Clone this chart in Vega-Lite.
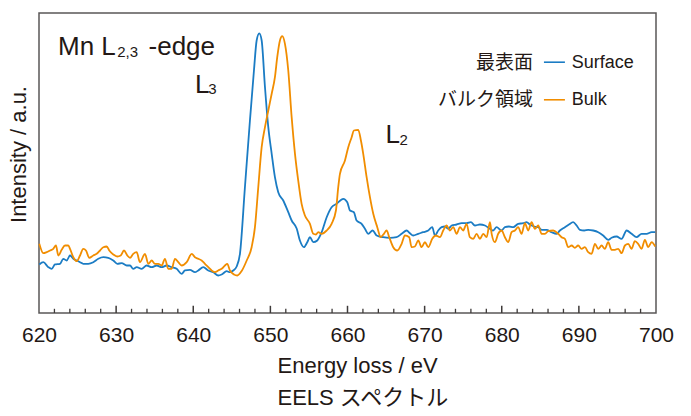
{
  "$schema": "https://vega.github.io/schema/vega-lite/v6.json",
  "width": 617,
  "height": 300,
  "autosize": {"type": "none"},
  "padding": {"left": 39, "top": 13, "right": 35, "bottom": 103},
  "background": "white",
  "config": {
    "view": {"stroke": "#595757", "strokeWidth": 1.5},
    "font": "Liberation Sans, Noto Sans CJK JP, sans-serif"
  },
  "datasets": {
    "spectra": [
      {"E":620.04,"I":16.17,"s":"Surface"},{"E":620.56,"I":16.93,"s":"Surface"},{"E":621.21,"I":15.27,"s":"Surface"},{"E":621.65,"I":14.73,"s":"Surface"},{"E":622.07,"I":16.17,"s":"Surface"},{"E":622.72,"I":16.4,"s":"Surface"},{"E":623.15,"I":18.07,"s":"Surface"},{"E":623.59,"I":17.5,"s":"Surface"},{"E":624.02,"I":19.17,"s":"Surface"},{"E":624.45,"I":18.07,"s":"Surface"},{"E":624.89,"I":17.5,"s":"Surface"},{"E":625.32,"I":16.93,"s":"Surface"},{"E":625.74,"I":16.4,"s":"Surface"},{"E":626.39,"I":16.4,"s":"Surface"},{"E":627.04,"I":16.93,"s":"Surface"},{"E":627.69,"I":18.07,"s":"Surface"},{"E":628.34,"I":18.6,"s":"Surface"},{"E":628.98,"I":18.4,"s":"Surface"},{"E":629.63,"I":17.5,"s":"Surface"},{"E":630.15,"I":16.4,"s":"Surface"},{"E":630.72,"I":16.6,"s":"Surface"},{"E":631.37,"I":15.83,"s":"Surface"},{"E":631.8,"I":15.83,"s":"Surface"},{"E":632.22,"I":14.73,"s":"Surface"},{"E":632.67,"I":15.27,"s":"Surface"},{"E":633.31,"I":14.73,"s":"Surface"},{"E":633.96,"I":15.83,"s":"Surface"},{"E":634.61,"I":15.27,"s":"Surface"},{"E":635.26,"I":15.83,"s":"Surface"},{"E":635.91,"I":15.27,"s":"Surface"},{"E":636.55,"I":15.83,"s":"Surface"},{"E":637.2,"I":15.27,"s":"Surface"},{"E":637.85,"I":14.73,"s":"Surface"},{"E":638.5,"I":13.07,"s":"Surface"},{"E":638.93,"I":14.17,"s":"Surface"},{"E":639.57,"I":14.4,"s":"Surface"},{"E":640.22,"I":13.6,"s":"Surface"},{"E":640.65,"I":14.17,"s":"Surface"},{"E":641.3,"I":15.27,"s":"Surface"},{"E":641.95,"I":14.17,"s":"Surface"},{"E":642.6,"I":13.6,"s":"Surface"},{"E":643.24,"I":12.5,"s":"Surface"},{"E":643.68,"I":12.83,"s":"Surface"},{"E":644.33,"I":13.93,"s":"Surface"},{"E":644.76,"I":13.6,"s":"Surface"},{"E":645.19,"I":14.17,"s":"Surface"},{"E":645.63,"I":15.5,"s":"Surface"},{"E":646.06,"I":19.83,"s":"Surface"},{"E":646.7,"I":41.93,"s":"Surface"},{"E":647.35,"I":64.17,"s":"Surface"},{"E":647.87,"I":80.83,"s":"Surface"},{"E":648.22,"I":90.83,"s":"Surface"},{"E":648.56,"I":93.2,"s":"Surface"},{"E":648.87,"I":90.83,"s":"Surface"},{"E":649.3,"I":75.27,"s":"Surface"},{"E":649.73,"I":61.93,"s":"Surface"},{"E":650.17,"I":53.07,"s":"Surface"},{"E":650.59,"I":45.27,"s":"Surface"},{"E":651.02,"I":40.27,"s":"Surface"},{"E":651.67,"I":37.5,"s":"Surface"},{"E":652.32,"I":33.6,"s":"Surface"},{"E":652.76,"I":30.83,"s":"Surface"},{"E":653.41,"I":28.17,"s":"Surface"},{"E":653.83,"I":24.17,"s":"Surface"},{"E":654.35,"I":21.93,"s":"Surface"},{"E":654.78,"I":23.6,"s":"Surface"},{"E":655.13,"I":25.27,"s":"Surface"},{"E":655.56,"I":23.6,"s":"Surface"},{"E":656.08,"I":24.17,"s":"Surface"},{"E":656.65,"I":26.93,"s":"Surface"},{"E":657.3,"I":31.93,"s":"Surface"},{"E":657.94,"I":35.27,"s":"Surface"},{"E":658.59,"I":36.4,"s":"Surface"},{"E":659.45,"I":38.07,"s":"Surface"},{"E":659.97,"I":36.93,"s":"Surface"},{"E":660.32,"I":34.17,"s":"Surface"},{"E":660.83,"I":33.6,"s":"Surface"},{"E":661.18,"I":30.83,"s":"Surface"},{"E":661.83,"I":29.73,"s":"Surface"},{"E":662.26,"I":28.07,"s":"Surface"},{"E":662.69,"I":26.4,"s":"Surface"},{"E":663.26,"I":27.5,"s":"Surface"},{"E":663.78,"I":25.83,"s":"Surface"},{"E":664.63,"I":25.27,"s":"Surface"},{"E":665.5,"I":25.07,"s":"Surface"},{"E":666.37,"I":25.27,"s":"Surface"},{"E":667.02,"I":26.4,"s":"Surface"},{"E":667.67,"I":27.5,"s":"Surface"},{"E":668.09,"I":26.6,"s":"Surface"},{"E":668.52,"I":25.83,"s":"Surface"},{"E":669.17,"I":26.4,"s":"Surface"},{"E":669.82,"I":26.93,"s":"Surface"},{"E":670.47,"I":27.5,"s":"Surface"},{"E":670.99,"I":28.6,"s":"Surface"},{"E":671.34,"I":25.83,"s":"Surface"},{"E":671.76,"I":27.5,"s":"Surface"},{"E":672.2,"I":28.6,"s":"Surface"},{"E":672.63,"I":28.83,"s":"Surface"},{"E":673.06,"I":28.07,"s":"Surface"},{"E":673.5,"I":29.17,"s":"Surface"},{"E":674.15,"I":29.5,"s":"Surface"},{"E":674.8,"I":29.93,"s":"Surface"},{"E":675.44,"I":29.93,"s":"Surface"},{"E":676.0,"I":30.27,"s":"Surface"},{"E":676.52,"I":29.17,"s":"Surface"},{"E":677.17,"I":29.5,"s":"Surface"},{"E":677.82,"I":29.17,"s":"Surface"},{"E":678.46,"I":28.07,"s":"Surface"},{"E":678.89,"I":27.5,"s":"Surface"},{"E":679.33,"I":28.6,"s":"Surface"},{"E":679.98,"I":27.5,"s":"Surface"},{"E":680.41,"I":28.6,"s":"Surface"},{"E":680.93,"I":28.83,"s":"Surface"},{"E":681.49,"I":28.6,"s":"Surface"},{"E":682.13,"I":29.73,"s":"Surface"},{"E":682.78,"I":29.93,"s":"Surface"},{"E":683.22,"I":30.27,"s":"Surface"},{"E":683.65,"I":29.5,"s":"Surface"},{"E":684.21,"I":28.83,"s":"Surface"},{"E":684.73,"I":28.6,"s":"Surface"},{"E":685.17,"I":27.73,"s":"Surface"},{"E":685.82,"I":27.73,"s":"Surface"},{"E":686.46,"I":26.93,"s":"Surface"},{"E":687.11,"I":26.4,"s":"Surface"},{"E":687.54,"I":27.5,"s":"Surface"},{"E":688.19,"I":28.6,"s":"Surface"},{"E":688.71,"I":29.5,"s":"Surface"},{"E":689.26,"I":30.27,"s":"Surface"},{"E":689.71,"I":29.17,"s":"Surface"},{"E":690.13,"I":27.73,"s":"Surface"},{"E":690.69,"I":27.5,"s":"Surface"},{"E":691.21,"I":27.73,"s":"Surface"},{"E":691.86,"I":27.5,"s":"Surface"},{"E":692.51,"I":26.93,"s":"Surface"},{"E":693.15,"I":25.83,"s":"Surface"},{"E":693.8,"I":24.4,"s":"Surface"},{"E":694.24,"I":25.07,"s":"Surface"},{"E":694.89,"I":25.5,"s":"Surface"},{"E":695.54,"I":24.73,"s":"Surface"},{"E":696.19,"I":27.5,"s":"Surface"},{"E":696.83,"I":26.4,"s":"Surface"},{"E":697.48,"I":25.27,"s":"Surface"},{"E":698.13,"I":26.4,"s":"Surface"},{"E":698.78,"I":26.4,"s":"Surface"},{"E":699.43,"I":26.93,"s":"Surface"},{"E":699.9,"I":26.93,"s":"Surface"},
      {"E":620.04,"I":23.07,"s":"Bulk"},{"E":620.56,"I":19.93,"s":"Bulk"},{"E":621.0,"I":20.27,"s":"Bulk"},{"E":621.43,"I":20.83,"s":"Bulk"},{"E":621.85,"I":21.4,"s":"Bulk"},{"E":622.2,"I":22.5,"s":"Bulk"},{"E":622.5,"I":19.17,"s":"Bulk"},{"E":622.94,"I":21.07,"s":"Bulk"},{"E":623.37,"I":22.5,"s":"Bulk"},{"E":623.8,"I":22.5,"s":"Bulk"},{"E":624.02,"I":21.4,"s":"Bulk"},{"E":624.45,"I":18.6,"s":"Bulk"},{"E":624.89,"I":17.27,"s":"Bulk"},{"E":625.32,"I":19.17,"s":"Bulk"},{"E":625.74,"I":21.4,"s":"Bulk"},{"E":626.09,"I":20.83,"s":"Bulk"},{"E":626.52,"I":18.4,"s":"Bulk"},{"E":627.04,"I":19.17,"s":"Bulk"},{"E":627.48,"I":19.73,"s":"Bulk"},{"E":627.91,"I":20.83,"s":"Bulk"},{"E":628.34,"I":21.93,"s":"Bulk"},{"E":628.78,"I":22.17,"s":"Bulk"},{"E":629.11,"I":20.83,"s":"Bulk"},{"E":629.63,"I":19.5,"s":"Bulk"},{"E":630.15,"I":18.83,"s":"Bulk"},{"E":630.59,"I":19.17,"s":"Bulk"},{"E":631.02,"I":20.83,"s":"Bulk"},{"E":631.45,"I":19.17,"s":"Bulk"},{"E":631.8,"I":18.4,"s":"Bulk"},{"E":632.22,"I":19.73,"s":"Bulk"},{"E":632.67,"I":20.27,"s":"Bulk"},{"E":633.09,"I":16.93,"s":"Bulk"},{"E":633.74,"I":19.73,"s":"Bulk"},{"E":634.17,"I":16.4,"s":"Bulk"},{"E":634.61,"I":17.5,"s":"Bulk"},{"E":635.04,"I":16.4,"s":"Bulk"},{"E":635.47,"I":16.4,"s":"Bulk"},{"E":635.91,"I":15.83,"s":"Bulk"},{"E":636.33,"I":18.07,"s":"Bulk"},{"E":636.76,"I":14.73,"s":"Bulk"},{"E":637.2,"I":14.73,"s":"Bulk"},{"E":637.63,"I":18.07,"s":"Bulk"},{"E":638.06,"I":16.93,"s":"Bulk"},{"E":638.5,"I":15.83,"s":"Bulk"},{"E":639.15,"I":16.93,"s":"Bulk"},{"E":639.8,"I":19.73,"s":"Bulk"},{"E":640.22,"I":18.6,"s":"Bulk"},{"E":640.65,"I":18.07,"s":"Bulk"},{"E":641.09,"I":17.5,"s":"Bulk"},{"E":641.52,"I":16.4,"s":"Bulk"},{"E":641.95,"I":15.27,"s":"Bulk"},{"E":642.39,"I":14.17,"s":"Bulk"},{"E":642.82,"I":13.6,"s":"Bulk"},{"E":643.24,"I":14.17,"s":"Bulk"},{"E":643.68,"I":14.73,"s":"Bulk"},{"E":644.11,"I":15.83,"s":"Bulk"},{"E":644.41,"I":16.4,"s":"Bulk"},{"E":644.76,"I":14.17,"s":"Bulk"},{"E":645.28,"I":12.83,"s":"Bulk"},{"E":645.71,"I":12.5,"s":"Bulk"},{"E":646.28,"I":14.0,"s":"Bulk"},{"E":646.93,"I":17.5,"s":"Bulk"},{"E":647.57,"I":21.93,"s":"Bulk"},{"E":648.0,"I":28.6,"s":"Bulk"},{"E":648.43,"I":41.93,"s":"Bulk"},{"E":648.87,"I":55.27,"s":"Bulk"},{"E":649.3,"I":61.93,"s":"Bulk"},{"E":649.73,"I":67.5,"s":"Bulk"},{"E":650.17,"I":73.07,"s":"Bulk"},{"E":650.59,"I":78.6,"s":"Bulk"},{"E":650.89,"I":85.27,"s":"Bulk"},{"E":651.24,"I":90.83,"s":"Bulk"},{"E":651.54,"I":92.3,"s":"Bulk"},{"E":651.89,"I":89.73,"s":"Bulk"},{"E":652.32,"I":80.83,"s":"Bulk"},{"E":652.76,"I":65.27,"s":"Bulk"},{"E":653.19,"I":53.07,"s":"Bulk"},{"E":653.61,"I":44.17,"s":"Bulk"},{"E":654.05,"I":36.4,"s":"Bulk"},{"E":654.48,"I":32.5,"s":"Bulk"},{"E":655.13,"I":29.73,"s":"Bulk"},{"E":655.56,"I":26.4,"s":"Bulk"},{"E":655.91,"I":26.17,"s":"Bulk"},{"E":656.21,"I":26.93,"s":"Bulk"},{"E":656.65,"I":26.4,"s":"Bulk"},{"E":657.3,"I":27.5,"s":"Bulk"},{"E":657.94,"I":29.73,"s":"Bulk"},{"E":658.5,"I":34.17,"s":"Bulk"},{"E":658.8,"I":41.93,"s":"Bulk"},{"E":659.02,"I":46.4,"s":"Bulk"},{"E":659.67,"I":50.83,"s":"Bulk"},{"E":660.1,"I":55.27,"s":"Bulk"},{"E":660.54,"I":58.6,"s":"Bulk"},{"E":660.83,"I":60.83,"s":"Bulk"},{"E":661.39,"I":61.07,"s":"Bulk"},{"E":661.74,"I":57.5,"s":"Bulk"},{"E":662.04,"I":53.07,"s":"Bulk"},{"E":662.48,"I":45.27,"s":"Bulk"},{"E":662.91,"I":38.6,"s":"Bulk"},{"E":663.34,"I":33.07,"s":"Bulk"},{"E":663.86,"I":28.6,"s":"Bulk"},{"E":664.3,"I":25.27,"s":"Bulk"},{"E":664.72,"I":26.4,"s":"Bulk"},{"E":665.07,"I":27.5,"s":"Bulk"},{"E":665.41,"I":25.27,"s":"Bulk"},{"E":665.93,"I":21.93,"s":"Bulk"},{"E":666.45,"I":20.83,"s":"Bulk"},{"E":667.02,"I":23.07,"s":"Bulk"},{"E":667.45,"I":25.83,"s":"Bulk"},{"E":668.0,"I":25.27,"s":"Bulk"},{"E":668.31,"I":21.93,"s":"Bulk"},{"E":668.74,"I":22.17,"s":"Bulk"},{"E":669.17,"I":24.17,"s":"Bulk"},{"E":669.61,"I":21.93,"s":"Bulk"},{"E":670.04,"I":23.6,"s":"Bulk"},{"E":670.47,"I":21.93,"s":"Bulk"},{"E":670.99,"I":24.73,"s":"Bulk"},{"E":671.43,"I":25.83,"s":"Bulk"},{"E":671.98,"I":25.27,"s":"Bulk"},{"E":672.41,"I":27.5,"s":"Bulk"},{"E":672.85,"I":29.17,"s":"Bulk"},{"E":673.28,"I":27.5,"s":"Bulk"},{"E":673.71,"I":28.6,"s":"Bulk"},{"E":674.15,"I":26.4,"s":"Bulk"},{"E":674.58,"I":28.6,"s":"Bulk"},{"E":675.0,"I":27.5,"s":"Bulk"},{"E":675.44,"I":29.73,"s":"Bulk"},{"E":675.87,"I":25.27,"s":"Bulk"},{"E":676.3,"I":24.73,"s":"Bulk"},{"E":676.74,"I":26.4,"s":"Bulk"},{"E":677.17,"I":24.73,"s":"Bulk"},{"E":677.6,"I":26.4,"s":"Bulk"},{"E":678.04,"I":25.27,"s":"Bulk"},{"E":678.47,"I":30.27,"s":"Bulk"},{"E":678.69,"I":26.4,"s":"Bulk"},{"E":679.12,"I":23.6,"s":"Bulk"},{"E":679.54,"I":26.4,"s":"Bulk"},{"E":679.98,"I":27.5,"s":"Bulk"},{"E":680.41,"I":25.27,"s":"Bulk"},{"E":680.84,"I":23.6,"s":"Bulk"},{"E":681.28,"I":26.93,"s":"Bulk"},{"E":681.71,"I":27.5,"s":"Bulk"},{"E":682.13,"I":28.6,"s":"Bulk"},{"E":682.57,"I":26.4,"s":"Bulk"},{"E":683.0,"I":29.93,"s":"Bulk"},{"E":683.43,"I":27.5,"s":"Bulk"},{"E":683.87,"I":30.27,"s":"Bulk"},{"E":684.3,"I":28.07,"s":"Bulk"},{"E":684.73,"I":29.17,"s":"Bulk"},{"E":685.17,"I":26.4,"s":"Bulk"},{"E":685.6,"I":26.4,"s":"Bulk"},{"E":686.02,"I":27.27,"s":"Bulk"},{"E":686.67,"I":27.5,"s":"Bulk"},{"E":687.32,"I":26.4,"s":"Bulk"},{"E":687.76,"I":25.27,"s":"Bulk"},{"E":688.19,"I":24.73,"s":"Bulk"},{"E":688.62,"I":21.93,"s":"Bulk"},{"E":689.06,"I":22.5,"s":"Bulk"},{"E":689.48,"I":21.73,"s":"Bulk"},{"E":689.91,"I":22.5,"s":"Bulk"},{"E":690.35,"I":21.4,"s":"Bulk"},{"E":690.78,"I":21.93,"s":"Bulk"},{"E":691.21,"I":20.27,"s":"Bulk"},{"E":691.65,"I":19.73,"s":"Bulk"},{"E":692.08,"I":23.07,"s":"Bulk"},{"E":692.51,"I":21.4,"s":"Bulk"},{"E":692.95,"I":22.5,"s":"Bulk"},{"E":693.37,"I":21.4,"s":"Bulk"},{"E":693.8,"I":23.6,"s":"Bulk"},{"E":694.24,"I":21.07,"s":"Bulk"},{"E":694.67,"I":21.07,"s":"Bulk"},{"E":695.1,"I":21.4,"s":"Bulk"},{"E":695.54,"I":19.93,"s":"Bulk"},{"E":695.97,"I":22.5,"s":"Bulk"},{"E":696.4,"I":23.07,"s":"Bulk"},{"E":696.83,"I":21.4,"s":"Bulk"},{"E":697.26,"I":23.93,"s":"Bulk"},{"E":697.69,"I":23.07,"s":"Bulk"},{"E":698.13,"I":21.4,"s":"Bulk"},{"E":698.56,"I":24.4,"s":"Bulk"},{"E":698.99,"I":21.93,"s":"Bulk"},{"E":699.43,"I":23.6,"s":"Bulk"},{"E":699.9,"I":22.17,"s":"Bulk"}
    ],
    "majorTicks": [
      {"v": 630}, {"v": 640}, {"v": 650}, {"v": 660}, {"v": 670}, {"v": 680}, {"v": 690}
    ],
    "minorTicks": [
      {"v": 622}, {"v": 624}, {"v": 626}, {"v": 628}, {"v": 632}, {"v": 634}, {"v": 636}, {"v": 638},
      {"v": 642}, {"v": 644}, {"v": 646}, {"v": 648}, {"v": 652}, {"v": 654}, {"v": 656}, {"v": 658},
      {"v": 662}, {"v": 664}, {"v": 666}, {"v": 668}, {"v": 672}, {"v": 674}, {"v": 676}, {"v": 678},
      {"v": 682}, {"v": 684}, {"v": 686}, {"v": 688}, {"v": 692}, {"v": 694}, {"v": 696}, {"v": 698}
    ],
    "big": [
      {"t": "Mn L", "E": 622.46, "I": 86.07},
      {"t": "-edge", "E": 634.2, "I": 86.07},
      {"t": "L", "E": 640.22, "I": 73.27},
      {"t": "L", "E": 664.94, "I": 56.73}
    ],
    "sub": [
      {"t": "2,3", "E": 630.15, "I": 85.5},
      {"t": "3", "E": 641.95, "I": 73.0},
      {"t": "2", "E": 666.75, "I": 56.1}
    ],
    "key": [
      {"s": "Surface", "jp": "最表面", "en": "Surface", "ty": 81.6, "ly": 83.6},
      {"s": "Bulk", "jp": "バルク領域", "en": "Bulk", "ty": 69.5, "ly": 71.07}
    ]
  },
  "layer": [
    {
      "data": {"name": "spectra"},
      "mark": {"type": "line", "strokeWidth": 1.8, "interpolate": "monotone"},
      "encoding": {
        "x": {
          "field": "E", "type": "quantitative",
          "scale": {"domain": [620, 700], "nice": false, "zero": false},
          "axis": {
            "values": [620, 630, 640, 650, 660, 670, 680, 690, 700],
            "grid": false, "domain": false, "ticks": false, "tickSize": 0,
            "labelFontSize": 21, "labelColor": "#231815", "labelPadding": 11,
            "labelFlush": false, "labelOverlap": false,
            "title": ["Energy loss / eV", "EELS スペクトル"],
            "titleFontSize": 22, "titleFontWeight": "normal", "titleColor": "#231815",
            "titleLineHeight": 32, "titleAlign": "left", "titleBaseline": "alphabetic",
            "titleX": 238, "titleY": 59
          }
        },
        "y": {
          "field": "I", "type": "quantitative",
          "scale": {"domain": [0, 100], "nice": false, "zero": false},
          "axis": {
            "grid": false, "domain": false, "ticks": false, "labels": false,
            "title": "Intensity / a.u.", "titleFontSize": 22, "titleFontWeight": "normal",
            "titleColor": "#231815", "titlePadding": 9, "titleY": 141
          }
        },
        "color": {
          "field": "s", "type": "nominal",
          "scale": {"domain": ["Surface", "Bulk"], "range": ["#1b7cc4", "#f18d00"]},
          "legend": null
        }
      }
    },
    {
      "data": {"name": "majorTicks"},
      "mark": {"type": "rule", "color": "#3e3a39", "strokeWidth": 1.5},
      "encoding": {
        "x": {"field": "v", "type": "quantitative"},
        "y": {"datum": 0, "type": "quantitative"},
        "y2": {"datum": 2.4}
      }
    },
    {
      "data": {"name": "minorTicks"},
      "mark": {"type": "rule", "color": "#3e3a39", "strokeWidth": 1.3},
      "encoding": {
        "x": {"field": "v", "type": "quantitative"},
        "y": {"datum": 0, "type": "quantitative"},
        "y2": {"datum": 1.4}
      }
    },
    {
      "data": {"name": "big"},
      "mark": {"type": "text", "fontSize": 26, "align": "left", "baseline": "alphabetic", "color": "#231815"},
      "encoding": {
        "x": {"field": "E", "type": "quantitative"},
        "y": {"field": "I", "type": "quantitative"},
        "text": {"field": "t"}
      }
    },
    {
      "data": {"name": "sub"},
      "mark": {"type": "text", "fontSize": 15, "align": "left", "baseline": "alphabetic", "color": "#231815"},
      "encoding": {
        "x": {"field": "E", "type": "quantitative"},
        "y": {"field": "I", "type": "quantitative"},
        "text": {"field": "t"}
      }
    },
    {
      "data": {"name": "key"},
      "mark": {"type": "rule", "strokeWidth": 1.6},
      "encoding": {
        "x": {"datum": 685.47, "type": "quantitative"},
        "x2": {"datum": 688.19},
        "y": {"field": "ly", "type": "quantitative"},
        "color": {"field": "s", "type": "nominal", "legend": null}
      }
    },
    {
      "data": {"name": "key"},
      "mark": {"type": "text", "fontSize": 19, "align": "right", "baseline": "alphabetic", "dy": 1, "font": "Noto Sans CJK JP", "color": "#231815"},
      "encoding": {
        "x": {"datum": 684.04, "type": "quantitative"},
        "y": {"field": "ty", "type": "quantitative"},
        "text": {"field": "jp"}
      }
    },
    {
      "data": {"name": "key"},
      "mark": {"type": "text", "fontSize": 18, "align": "left", "baseline": "alphabetic", "color": "#231815"},
      "encoding": {
        "x": {"datum": 689.06, "type": "quantitative"},
        "y": {"field": "ty", "type": "quantitative"},
        "text": {"field": "en"}
      }
    }
  ]
}
